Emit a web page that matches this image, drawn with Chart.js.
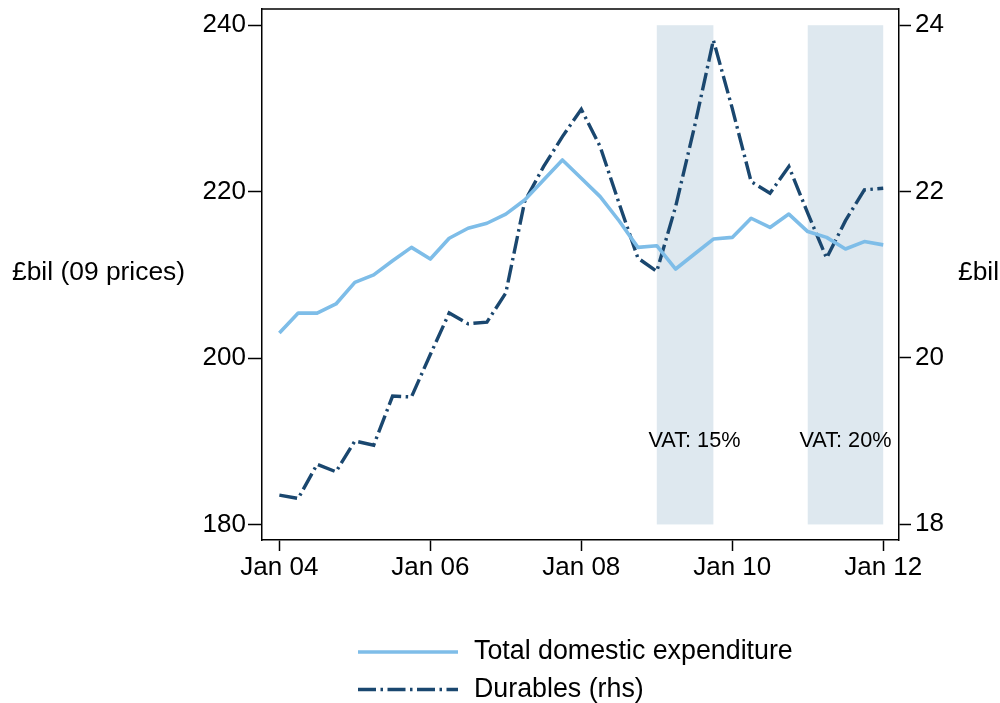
<!DOCTYPE html>
<html lang="en">
<head>
<meta charset="UTF-8">
<title>Domestic expenditure and durables</title>
<script src="https://cdn.jsdelivr.net/npm/chart.js"></script>
<style>
  html, body { margin: 0; padding: 0; background: #fff; }
  #wrap { width: 1000px; height: 703px; }
</style>
</head>
<body>
<div id="wrap"><canvas id="chart" width="1000" height="703"></canvas></div>
<script>
// quarterly data, Jan 04 .. Jan 12
const quarters = [
  'Jan 04', 'Apr 04', 'Jul 04', 'Oct 04', 'Jan 05', 'Apr 05', 'Jul 05', 'Oct 05',
  'Jan 06', 'Apr 06', 'Jul 06', 'Oct 06', 'Jan 07', 'Apr 07', 'Jul 07', 'Oct 07',
  'Jan 08', 'Apr 08', 'Jul 08', 'Oct 08', 'Jan 09', 'Apr 09', 'Jul 09', 'Oct 09',
  'Jan 10', 'Apr 10', 'Jul 10', 'Oct 10', 'Jan 11', 'Apr 11', 'Jul 11', 'Oct 11',
  'Jan 12'
];
const totalExp = [
  203.0, 205.4, 205.4, 206.5, 209.1, 210.0, 211.7, 213.3,
  211.9, 214.4, 215.6, 216.2, 217.3, 219.0, 221.4, 223.8,
  221.6, 219.4, 216.5, 213.3, 213.5, 210.7, 212.5, 214.3,
  214.5, 216.8, 215.7, 217.3, 215.2, 214.5, 213.1, 214.0,
  213.6
];
const durables = [
  18.35, 18.31, 18.72, 18.63, 19.00, 18.95, 19.54, 19.53,
  20.04, 20.54, 20.41, 20.43, 20.78, 21.88, 22.30, 22.66,
  22.99, 22.54, 21.86, 21.20, 21.04, 21.82, 22.78, 23.82,
  23.00, 22.12, 21.98, 22.30, 21.74, 21.20, 21.65, 22.02,
  22.04
];
const xTickPos = [0, 8, 16, 24, 32];
const xTickLabels = ['Jan 04', 'Jan 06', 'Jan 08', 'Jan 10', 'Jan 12'];
const leftTicks = [180, 200, 220, 240];
const rightTicks = [18, 20, 22, 24];
// VAT periods (quarter index) and their labels
const vatStart = [20, 28];
const vatEnd = [23, 32];
const vatLabels = ['VAT: 15%', 'VAT: 20%'];
const vatLabelX = [22, 30];
const vatLabelY = 190;
const shadeLow = 180, shadeHigh = 240;

const FONT = "'Liberation Sans', Arial, Helvetica, sans-serif";
const lightBlue = 'rgb(126,189,232)';
const navy = 'rgb(26,71,111)';
const shadeColor = 'rgb(222,232,239)';

function noPad(s) {
  s.paddingTop = 0; s.paddingBottom = 0; s.paddingLeft = 0; s.paddingRight = 0;
}

const extras = {
  id: 'extras',
  beforeDatasetsDraw(chart) {
    const { ctx, scales } = chart;
    const x = scales.x, y = scales.y;
    ctx.save();
    ctx.fillStyle = shadeColor;
    for (let i = 0; i < vatStart.length; i++) {
      const x0 = x.getPixelForValue(vatStart[i]);
      const x1 = x.getPixelForValue(vatEnd[i]);
      const y0 = y.getPixelForValue(shadeHigh);
      const y1 = y.getPixelForValue(shadeLow);
      ctx.fillRect(x0, y0, x1 - x0, y1 - y0);
    }
    ctx.fillStyle = '#000';
    ctx.font = '21.7px ' + FONT;
    ctx.textAlign = 'center';
    ctx.textBaseline = 'middle';
    vatLabels.forEach((t, i) => {
      ctx.fillText(t, x.getPixelForValue(vatLabelX[i]), y.getPixelForValue(vatLabelY));
    });
    ctx.restore();
  },
  afterDraw(chart) {
    const { ctx, chartArea } = chart;
    ctx.save();
    // top frame line
    ctx.strokeStyle = '#000';
    ctx.lineWidth = 1.5;
    ctx.beginPath();
    ctx.moveTo(chartArea.left, chartArea.top);
    ctx.lineTo(chartArea.right, chartArea.top);
    ctx.stroke();

    // axis titles
    const midY = (chartArea.top + chartArea.bottom) / 2 - 2;
    ctx.fillStyle = '#000';
    ctx.font = '26.4px ' + FONT;
    ctx.textBaseline = 'middle';
    ctx.textAlign = 'left';
    ctx.fillText('£bil (09 prices)', 12, midY);
    ctx.fillText('£bil', 958, midY);

    // legend
    const ds = chart.data.datasets;
    const rows = [652, 689.5];
    ds.forEach((d, i) => {
      ctx.strokeStyle = d.borderColor;
      ctx.lineWidth = d.borderWidth;
      ctx.lineCap = 'butt';
      ctx.setLineDash(d.borderDash || []);
      ctx.beginPath();
      ctx.moveTo(358, rows[i]);
      ctx.lineTo(458, rows[i]);
      ctx.stroke();
      ctx.setLineDash([]);
      ctx.font = '26.8px ' + FONT;
      ctx.fillText(d.label, 474, rows[i]);
    });
    ctx.restore();
  }
};

const axisGrid = { drawOnChartArea: false, tickColor: '#000', tickWidth: 1.5 };
const axisBorder = { color: '#000', width: 1.5 };

new Chart(document.getElementById('chart'), {
  type: 'line',
  data: {
    datasets: [
      {
        label: 'Total domestic expenditure',
        data: totalExp.map((v, i) => ({ x: i, y: v })),
        yAxisID: 'y',
        borderColor: lightBlue,
        borderWidth: 3.6,
        borderJoinStyle: 'round',
        pointRadius: 0,
        tension: 0
      },
      {
        label: 'Durables (rhs)',
        data: durables.map((v, i) => ({ x: i, y: v })),
        yAxisID: 'y2',
        borderColor: navy,
        borderWidth: 3.4,
        borderDash: [18, 4.5, 2.5, 4.5],
        borderCapStyle: 'butt',
        pointRadius: 0,
        tension: 0
      }
    ]
  },
  options: {
    responsive: false,
    animation: false,
    layout: { padding: { top: 9, left: 0, right: 0, bottom: 0 } },
    plugins: { legend: { display: false }, tooltip: { enabled: false } },
    scales: {
      x: {
        type: 'linear',
        position: 'bottom',
        min: -0.92,
        max: 32.81,
        afterBuildTicks: s => { s.ticks = xTickPos.map(v => ({ value: v })); },
        afterFit: s => { s.height = 163; noPad(s); },
        ticks: {
          callback: v => xTickLabels[xTickPos.indexOf(v)],
          font: { family: FONT, size: 26 },
          color: '#000',
          padding: 1,
          maxRotation: 0,
          autoSkip: false
        },
        grid: Object.assign({ tickLength: 11 }, axisGrid),
        border: axisBorder
      },
      y: {
        position: 'left',
        min: 178.13,
        max: 241.95,
        afterBuildTicks: s => { s.ticks = leftTicks.map(v => ({ value: v })); },
        afterFit: s => { s.width = 262; noPad(s); },
        ticks: { font: { family: FONT, size: 26 }, color: '#000', padding: 2 },
        grid: Object.assign({ tickLength: 14 }, axisGrid),
        border: axisBorder
      },
      y2: {
        position: 'right',
        min: 17.81,
        max: 24.195,
        afterBuildTicks: s => { s.ticks = rightTicks.map(v => ({ value: v })); },
        afterFit: s => { s.width = 101.5; noPad(s); },
        ticks: { font: { family: FONT, size: 26 }, color: '#000', padding: 4 },
        grid: Object.assign({ tickLength: 12.5 }, axisGrid),
        border: axisBorder
      }
    }
  },
  plugins: [extras]
});
</script>
</body>
</html>
